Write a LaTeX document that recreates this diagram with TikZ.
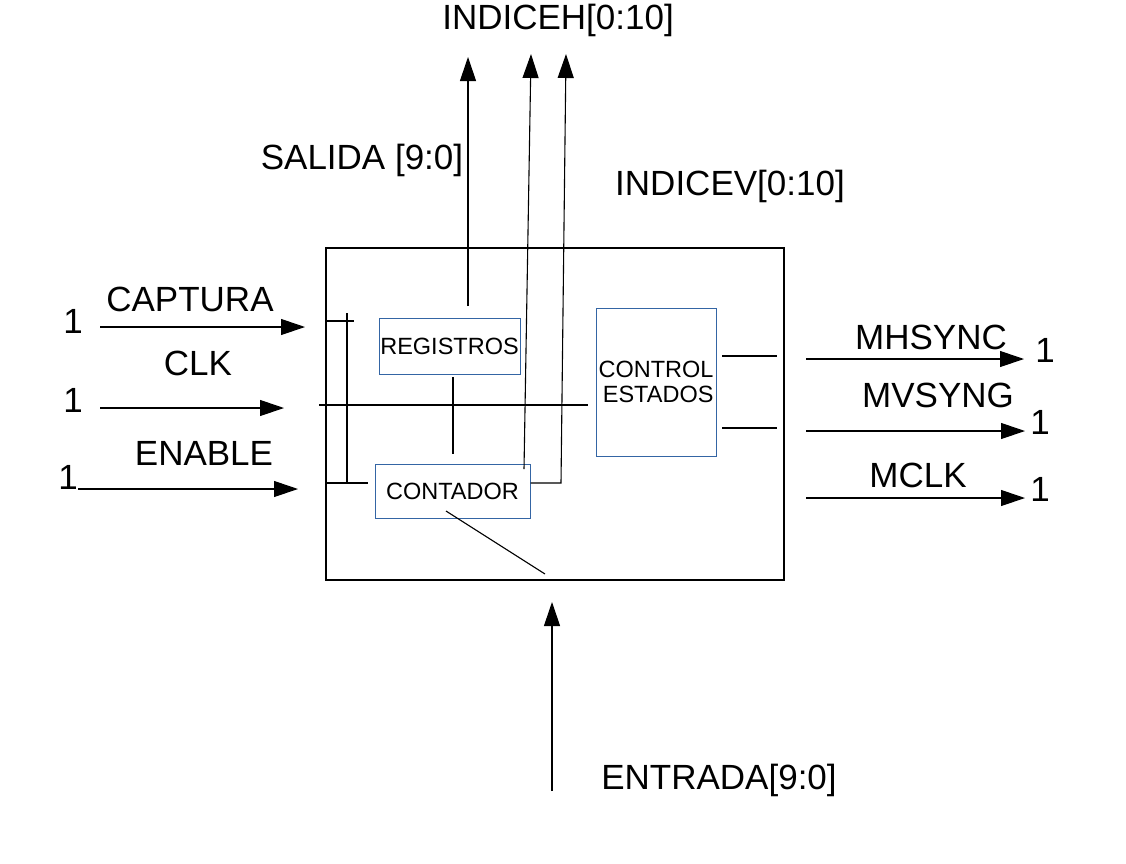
\documentclass[tikz,border=0pt]{standalone}
\usepackage{fontspec}
\setmainfont{Liberation Sans}
\usetikzlibrary{arrows.meta}
\definecolor{boxblue}{HTML}{3465A4}
\begin{document}
\begin{tikzpicture}[x=1pt,y=-1pt,
  wire/.style={line width=1.1pt,black},
  arr/.style={wire,-{Triangle[length=24pt,width=16pt]}},
  big/.style={font=\fontsize{35}{40}\selectfont,inner sep=0pt},
  small/.style={font=\fontsize{23.5}{25}\selectfont},
  blk/.style={draw=boxblue,line width=1pt,inner sep=0pt,small}]
\useasboundingbox (0,0) rectangle (1126,863);
% main box
\node[draw,line width=1.1pt,minimum width=458pt,minimum height=332pt,inner sep=0pt] (main) at (555,414) {};
\node[blk,minimum width=141pt,minimum height=56pt] (reg) at (449.5,346) {REGISTROS};
\node[blk,minimum width=155pt,minimum height=54pt] (cont) at (452.5,491) {CONTADOR};
\node[blk,minimum width=120pt,minimum height=148pt,align=right] (ctrl) at (656,382) {CONTROL\\ESTADOS};
% labels
\node[big] (lcap) at (190,299) {CAPTURA};
\node[big] (lclk) at (198,363) {CLK};
\node[big] (len) at (204,453) {ENABLE};
\node[big] (o1) at (73,321) {1};
\node[big] (o2) at (73,400) {1};
\node[big] (o3) at (68,477) {1};
\node[big] (lsal) at (362,160) {SALIDA [9:0]};
\node[big] (lih) at (558,20) {INDICEH[0:10]};
\node[big] (liv) at (730,186) {INDICEV[0:10]};
\node[big] (lhs) at (931,337) {MHSYNC};
\node[big] (lvs) at (938,395) {MVSYNG};
\node[big] (lmc) at (918,475) {MCLK};
\node[big] (r1) at (1045,350) {1};
\node[big] (r2) at (1040,422) {1};
\node[big] (r3) at (1040,489) {1};
\node[big] (lent) at (719,780) {ENTRADA[9:0]};
% coordinates
\coordinate (capA) at (100,327); \coordinate (capB) at (305,327);
\coordinate (clkA) at (100,408); \coordinate (clkB) at (284,408);
\coordinate (enA) at (78,489); \coordinate (enB) at (298,489);
\coordinate (hsA) at (806,359); \coordinate (hsB) at (1024,359);
\coordinate (vsA) at (806,431); \coordinate (vsB) at (1025,431);
\coordinate (mcA) at (806,498); \coordinate (mcB) at (1025,498);
\coordinate (entA) at (552,791); \coordinate (entB) at (552,602);
\coordinate (salA) at (468,306); \coordinate (salB) at (468,57);
\coordinate (ihA) at (524,469); \coordinate (ihB) at (531,54);
\coordinate (ivA) at (561,483); \coordinate (ivB) at (566,54);
\coordinate (busT) at (347,313); \coordinate (busB) at (347,483);
\coordinate (capI) at (354,321);
% outer arrows
\draw[arr] (capA) -- (capB);
\draw[arr] (clkA) -- (clkB);
\draw[arr] (enA) -- (enB);
\draw[arr] (hsA) -- (hsB);
\draw[arr] (vsA) -- (vsB);
\draw[arr] (mcA) -- (mcB);
\draw[arr] (entA) -- (entB);
\draw[arr] (salA) -- (salB);
\draw[arr] (ihA) -- (ihB);
\draw[arr] (cont.east |- ivA) -- (ivA) -- (ivB);
% inner wiring
\draw[wire] (main.west |- capI) -- (capI);
\draw[wire] (busT) -- (busB);
\draw[wire] (319,405) -- (588,405);
\draw[wire] (main.west |- busB) -- (368,483);
\draw[wire] (453,377) -- (453,454);
\draw[wire] (446,511) -- (545,574);
\draw[wire] (722,356) -- (777,356);
\draw[wire] (722,428) -- (777,428);
\end{tikzpicture}
\end{document}
